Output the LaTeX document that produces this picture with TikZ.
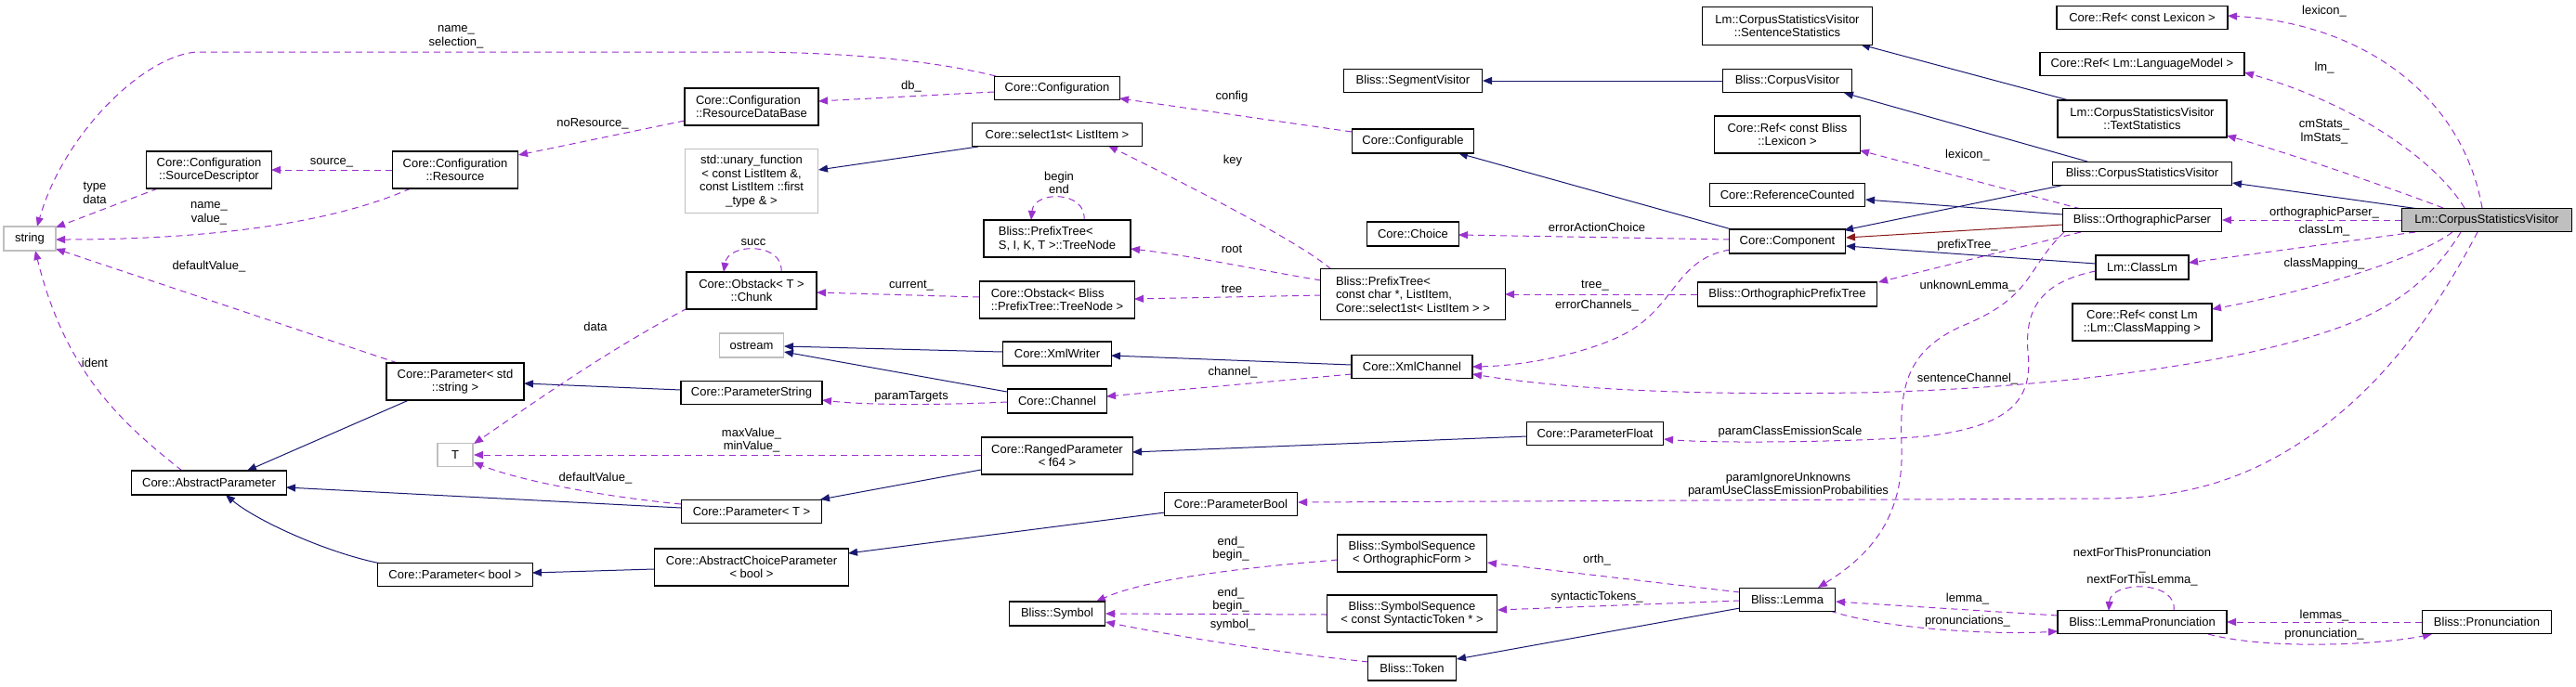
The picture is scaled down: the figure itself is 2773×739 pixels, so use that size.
\documentclass[tikz,border=0pt]{standalone}
\usepackage{fontspec}
\setmainfont{Liberation Sans}
\usetikzlibrary{arrows.meta,calc}
\definecolor{navy}{HTML}{191970}
\definecolor{orchid}{HTML}{9A32CD}
\definecolor{firebrick}{HTML}{8B1A1A}
\definecolor{grayb}{HTML}{BFBFBF}
\pgfdeclarelayer{bg}
\pgfsetlayers{bg,main}
\begin{document}
\begin{tikzpicture}[x=1pt,y=-1pt,font=\fontsize{13}{14.5}\selectfont,
  box/.style={draw=black,line width=1.1pt,fill=white,inner sep=0pt,align=center},
  gbox/.style={box,draw=grayb},
  inh/.style={draw=navy,line width=1pt,-{Triangle[length=10pt,width=8pt]}},
  priv/.style={inh,draw=firebrick},
  use/.style={draw=orchid,line width=1pt,dash pattern=on 7pt off 5pt,-{Triangle[length=10pt,width=8pt]}},
  lbl/.style={inner sep=0pt,align=center}]
\useasboundingbox (0,0) rectangle (2773,739);
% nodes
\node[gbox,minimum width=56pt,minimum height=26pt] (str) at (32,257) {string};
\node[box,minimum width=135pt,minimum height=40pt] (sd) at (225,183) {Core::Configuration\\::SourceDescriptor};
\node[box,minimum width=135pt,minimum height=40pt] (res) at (490,183) {Core::Configuration\\::Resource};
\node[box,minimum width=148pt,minimum height=40pt] (pstr) at (490,411) {Core::Parameter< std\\::string >};
\node[gbox,minimum width=38pt,minimum height=25pt] (tt) at (490,490) {T};
\node[box,minimum width=167pt,minimum height=26pt] (ap) at (225,520) {Core::AbstractParameter};
\node[box,minimum width=167pt,minimum height=25pt] (pbool) at (490,619) {Core::Parameter< bool >};
\node[box,minimum width=135pt,minimum height=25pt] (cfg) at (1138,95) {Core::Configuration};
\node[box,align=left,minimum width=144pt,minimum height=40pt] (rdb) at (809,115) {Core::Configuration\\::ResourceDataBase};
\node[box,minimum width=183pt,minimum height=25pt] (sel) at (1138,145) {Core::select1st< ListItem >};
\node[gbox,minimum width=143pt,minimum height=69pt] (uf) at (809,195) {std::unary\_function\\< const ListItem \&,\\ const ListItem ::first\\\_type \& >};
\node[box,align=left,minimum width=158pt,minimum height=40pt] (tn) at (1138,257) {Bliss::PrefixTree<\\ S, I, K, T >::TreeNode};
\node[box,minimum width=140pt,minimum height=40pt] (chunk) at (809,313) {Core::Obstack< T >\\::Chunk};
\node[box,align=left,minimum width=167pt,minimum height=40pt] (obs) at (1138,323) {Core::Obstack< Bliss\\::PrefixTree::TreeNode >};
\node[gbox,minimum width=69pt,minimum height=26pt] (ostr) at (809,372) {ostream};
\node[box,minimum width=117pt,minimum height=26pt] (xw) at (1138,381) {Core::XmlWriter};
\node[box,minimum width=152pt,minimum height=25pt] (pstring) at (809,423) {Core::ParameterString};
\node[box,minimum width=107pt,minimum height=26pt] (chan) at (1138,432) {Core::Channel};
\node[box,minimum width=163pt,minimum height=40pt] (rp) at (1138,491) {Core::RangedParameter\\< f64 >};
\node[box,minimum width=151pt,minimum height=25pt] (pt) at (809,551) {Core::Parameter< T >};
\node[box,minimum width=143pt,minimum height=25pt] (pb) at (1325,543) {Core::ParameterBool};
\node[box,minimum width=209pt,minimum height=40pt] (acp) at (809,611) {Core::AbstractChoiceParameter\\< bool >};
\node[box,minimum width=103pt,minimum height=26pt] (sym) at (1138,661) {Bliss::Symbol};
\node[box,minimum width=183pt,minimum height=41pt] (ss) at (1924,28) {Lm::CorpusStatisticsVisitor\\::SentenceStatistics};
\node[box,minimum width=149pt,minimum height=25pt] (sv) at (1521,87) {Bliss::SegmentVisitor};
\node[box,minimum width=139pt,minimum height=25pt] (cv) at (1924,87) {Bliss::CorpusVisitor};
\node[box,minimum width=157pt,minimum height=40pt] (rbl) at (1924,145) {Core::Ref< const Bliss\\::Lexicon >};
\node[box,minimum width=131pt,minimum height=26pt] (cfgb) at (1521,152) {Core::Configurable};
\node[box,minimum width=167pt,minimum height=25pt] (rc) at (1924,210) {Core::ReferenceCounted};
\node[box,minimum width=99pt,minimum height=26pt] (cho) at (1521,252) {Core::Choice};
\node[box,minimum width=125pt,minimum height=26pt] (comp) at (1924,260) {Core::Component};
\node[box,align=left,minimum width=199pt,minimum height=55pt] (ptree) at (1521,317) {Bliss::PrefixTree<\\ const char *, ListItem,\\ Core::select1st< ListItem > >};
\node[box,minimum width=193pt,minimum height=26pt] (opt) at (1924,317) {Bliss::OrthographicPrefixTree};
\node[box,minimum width=130pt,minimum height=25pt] (xch) at (1520,395) {Core::XmlChannel};
\node[box,minimum width=147pt,minimum height=25pt] (pf) at (1717,467) {Core::ParameterFloat};
\node[box,minimum width=161pt,minimum height=40pt] (sso) at (1520,596) {Bliss::SymbolSequence\\< OrthographicForm >};
\node[box,minimum width=183pt,minimum height=40pt] (sst) at (1520,661) {Bliss::SymbolSequence\\< const SyntacticToken * >};
\node[box,minimum width=95pt,minimum height=26pt] (tok) at (1520,720) {Bliss::Token};
\node[box,minimum width=103pt,minimum height=25pt] (lem) at (1924,646) {Bliss::Lemma};
\node[box,minimum width=184pt,minimum height=25pt] (rlex) at (2306,19) {Core::Ref< const Lexicon >};
\node[box,minimum width=220pt,minimum height=25pt] (rlm) at (2306,69) {Core::Ref< Lm::LanguageModel >};
\node[box,minimum width=182pt,minimum height=40pt] (ts) at (2306,128) {Lm::CorpusStatisticsVisitor\\::TextStatistics};
\node[box,minimum width=193pt,minimum height=25pt] (bcsv) at (2306,187) {Bliss::CorpusStatisticsVisitor};
\node[box,minimum width=171pt,minimum height=25pt] (op) at (2306,237) {Bliss::OrthographicParser};
\node[box,fill=grayb,minimum width=183pt,minimum height=25pt] (lcsv) at (2677,237) {Lm::CorpusStatisticsVisitor};
\node[box,minimum width=100pt,minimum height=26pt] (clm) at (2306,288) {Lm::ClassLm};
\node[box,minimum width=150pt,minimum height=40pt] (rcm) at (2306,347) {Core::Ref< const Lm\\::Lm::ClassMapping >};
\node[box,minimum width=182pt,minimum height=25pt] (lp) at (2306,670) {Bliss::LemmaPronunciation};
\node[box,minimum width=139pt,minimum height=25pt] (pron) at (2677,670) {Bliss::Pronunciation};
% labels
\node[lbl] (l1) at (491,40) {name\_\\selection\_};
\node[lbl] (l2) at (638,133) {noResource\_};
\node[lbl] (l3) at (357,175) {source\_};
\node[lbl] (l4) at (102,208) {type\\data};
\node[lbl] (l5) at (225,230) {name\_\\value\_};
\node[lbl] (l6) at (225,287) {defaultValue\_};
\node[lbl] (l7) at (641,352) {data};
\node[lbl] (l8) at (102,391) {ident};
\node[lbl] (l9) at (641,515) {defaultValue\_};
\node[lbl] (l10) at (981,93) {db\_};
\node[lbl] (l11) at (1326,104) {config};
\node[lbl] (l12) at (1327,173) {key};
\node[lbl] (l13) at (1140,197) {begin\\end};
\node[lbl] (l14) at (811,261) {succ};
\node[lbl] (l15) at (981,308) {current\_};
\node[lbl] (l16) at (1326,268) {root};
\node[lbl] (l17) at (1326,311) {tree};
\node[lbl] (l18) at (1327,401) {channel\_};
\node[lbl] (l19) at (981,427) {paramTargets};
\node[lbl] (l20) at (809,474) {maxValue\_\\minValue\_};
\node[lbl] (l21) at (1325,591) {end\_\\begin\_};
\node[lbl] (l22) at (1325,646) {end\_\\begin\_};
\node[lbl] (l23) at (1327,673) {symbol\_};
\node[lbl] (l24) at (1719,245) {errorActionChoice};
\node[lbl] (l25) at (1717,308) {tree\_};
\node[lbl] (l26) at (1719,329) {errorChannels\_};
\node[lbl] (l27) at (1927,465) {paramClassEmissionScale};
\node[lbl] (l28) at (1925,522) {paramIgnoreUnknowns\\paramUseClassEmissionProbabilities};
\node[lbl] (l29) at (1719,603) {orth\_};
\node[lbl] (l30) at (1719,643) {syntacticTokens\_};
\node[lbl] (l31) at (2502,12) {lexicon\_};
\node[lbl] (l32) at (2502,73) {lm\_};
\node[lbl] (l33) at (2502,142) {cmStats\_\\lmStats\_};
\node[lbl] (l34) at (2118,167) {lexicon\_};
\node[lbl] (l35) at (2502,229) {orthographicParser\_};
\node[lbl] (l36) at (2502,248) {classLm\_};
\node[lbl] (l37) at (2118,264) {prefixTree\_};
\node[lbl] (l38) at (2118,308) {unknownLemma\_};
\node[lbl] (l39) at (2502,284) {classMapping\_};
\node[lbl] (l40) at (2118,408) {sentenceChannel\_};
\node[lbl] (l41) at (2306,611) {nextForThisPronunciation\\\_\\nextForThisLemma\_};
\node[lbl] (l42) at (2118,645) {lemma\_};
\node[lbl] (l43) at (2118,669) {pronunciations\_};
\node[lbl] (l44) at (2502,663) {lemmas\_};
\node[lbl] (l45) at (2502,683) {pronunciation\_};
\begin{pgfonlayer}{bg}
% inheritance
\draw[inh] ($(pstr)+(-50,20)$) -- ($(ap)+(41,-13)$);
\draw[inh] ($(pstring)+(-76,-3)$) -- ($(pstr)+(74,2)$);
\draw[inh] ($(pt)+(-76,-4)$) -- ($(ap)+(83,5)$);
\draw[inh] ($(pbool)+(-80,-12)$) .. controls (350,595) and (275,560) .. ($(ap)+(18,13)$);
\draw[inh] ($(acp)+(-105,2)$) -- ($(pbool)+(83,-2)$);
\draw[inh] ($(sel)+(-85,13)$) -- ($(uf)+(72,-12)$);
\draw[inh] ($(xw)+(-59,-2)$) -- ($(ostr)+(35,1)$);
\draw[inh] ($(chan)+(-54,-10)$) -- ($(ostr)+(35,7)$);
\draw[inh] ($(xch)+(-65,-2)$) -- ($(xw)+(58,2)$);
\draw[inh] ($(rp)+(-82,15)$) -- ($(pt)+(74,-13)$);
\draw[inh] ($(pf)+(-73,3)$) -- ($(rp)+(81,-4)$);
\draw[inh] ($(pb)+(-71,9)$) -- ($(acp)+(104,-15)$);
\draw[inh] ($(cv)+(-70,0)$) -- ($(sv)+(75,0)$);
\draw[inh] ($(comp)+(-60,-13)$) -- ($(cfgb)+(49,13)$);
\draw[inh] ($(bcsv)+(-59,-13)$) -- ($(cv)+(61,13)$);
\draw[inh] ($(ts)+(-79,-20)$) -- ($(ss)+(79,20)$);
\draw[inh] ($(lcsv)+(-73,-12)$) -- ($(bcsv)+(97,10)$);
\draw[inh] ($(op)+(-86,-6)$) -- ($(rc)+(84,5)$);
\draw[inh] ($(bcsv)+(-83,12)$) -- ($(comp)+(61,-12)$);
\draw[priv] ($(op)+(-86,5)$) -- ($(comp)+(63,-4)$);
\draw[inh] ($(clm)+(-50,-4)$) -- ($(comp)+(63,5)$);
\draw[inh] ($(lem)+(-51,9)$) -- ($(tok)+(48,-10)$);
% usage
\draw[use] ($(cfg)+(-66,-13)$) .. controls (1000,64) and (900,56) .. (800,56) -- (215,56) .. controls (160,56) and (70,140) .. ($(str)+(8,-13)$);
\draw[use] ($(cfg)+(-68,4)$) -- ($(rdb)+(72,-6)$);
\draw[use] ($(rdb)+(-72,15)$) -- ($(res)+(68,-16)$);
\draw[use] ($(res)+(-68,0)$) -- ($(sd)+(67,0)$);
\draw[use] ($(sd)+(-55,20)$) -- ($(str)+(28,-12)$);
\draw[use] ($(res)+(-48,20)$) .. controls (370,235) and (250,258) .. ($(str)+(28,1)$);
\draw[use] ($(pstr)+(-62,-20)$) -- ($(str)+(28,11)$);
\draw[use] ($(ap)+(-29,-13)$) .. controls (130,455) and (70,400) .. ($(str)+(6,13)$);
\draw[use] ($(chunk)+(-69,19)$) .. controls (650,380) and (580,430) .. ($(tt)+(20,-12)$);
\draw[use] ($(chunk)+(32,-20)$) .. controls ($(chunk)+(35,-52)$) and ($(chunk)+(-25,-52)$) .. ($(chunk)+(-30,-20)$);
\draw[use] ($(rp)+(-82,-1)$) -- ($(tt)+(20,0)$);
\draw[use] ($(pt)+(-76,-8)$) .. controls (650,535) and (560,518) .. ($(tt)+(20,8)$);
\draw[use] ($(cfgb)+(-66,-10)$) -- ($(cfg)+(67,11)$);
\draw[use] ($(ptree)+(-88,-27)$) .. controls (1400,262) and (1300,210) .. ($(sel)+(55,12)$);
\draw[use] ($(ptree)+(-99,-15)$) .. controls (1350,290) and (1280,275) .. ($(tn)+(79,11)$);
\draw[use] ($(ptree)+(-99,1)$) -- ($(obs)+(83,-1)$);
\draw[use] ($(tn)+(29,-20)$) .. controls ($(tn)+(32,-52)$) and ($(tn)+(-25,-52)$) .. ($(tn)+(-28,-20)$);
\draw[use] ($(obs)+(-84,-3)$) -- ($(chunk)+(70,2)$);
\draw[use] ($(chan)+(-54,1)$) .. controls (1000,437) and (930,436) .. ($(pstring)+(76,8)$);
\draw[use] ($(xch)+(-65,8)$) -- ($(chan)+(53,-5)$);
\draw[use] ($(comp)+(-62,-2)$) -- ($(cho)+(49,1)$);
\draw[use] ($(opt)+(-97,0)$) -- ($(ptree)+(99,0)$);
\draw[use] ($(comp)+(-62,9)$) .. controls (1800,280) and (1805,335) .. (1740,364) .. controls (1700,382) and (1640,394) .. ($(xch)+(65,0)$);
\draw[use] ($(lcsv)+(-28,13)$) .. controls (2600,330) and (2530,355) .. (2420,380) .. controls (2300,405) and (2150,420) .. (2000,423) .. controls (1800,426) and (1680,418) .. ($(xch)+(65,8)$);
\draw[use] ($(lcsv)+(-10,13)$) .. controls (2630,320) and (2580,400) .. (2500,460) .. controls (2430,512) and (2360,537) .. (2263,537) -- ($(pb)+(72,-2)$);
\draw[use] ($(clm)+(-50,4)$) .. controls (2190,305) and (2180,340) .. (2183,380) .. controls (2190,440) and (2150,460) .. (2073,470) .. controls (2000,476) and (1850,478) .. ($(pf)+(74,6)$);
\draw[use] ($(op)+(-84,13)$) .. controls (2180,290) and (2190,320) .. (2110,352) .. controls (2050,380) and (2045,420) .. (2047,480) .. controls (2050,560) and (2010,600) .. ($(lem)+(33,-13)$);
\draw[use] ($(op)+(-66,-12)$) -- ($(rbl)+(78,17)$);
\draw[use] ($(op)+(-66,13)$) -- ($(opt)+(98,-13)$);
\draw[use] ($(lcsv)+(-92,0)$) -- ($(op)+(86,0)$);
\draw[use] ($(lcsv)+(-77,13)$) -- ($(clm)+(50,-5)$);
\draw[use] ($(lcsv)+(-37,13)$) .. controls (2600,280) and (2480,315) .. ($(rcm)+(75,-14)$);
\draw[use] ($(lcsv)+(-5,-13)$) .. controls (2650,100) and (2540,25) .. ($(rlex)+(92,-2)$);
\draw[use] ($(lcsv)+(-24,-13)$) .. controls (2620,170) and (2530,110) .. ($(rlm)+(110,9)$);
\draw[use] ($(lcsv)+(-47,-13)$) .. controls (2580,205) and (2480,170) .. ($(ts)+(91,18)$);
\draw[use] ($(lem)+(-51,-8)$) -- ($(sso)+(81,10)$);
\draw[use] ($(lem)+(-51,1)$) -- ($(sst)+(92,-4)$);
\draw[use] ($(sso)+(-80,7)$) .. controls (1330,612) and (1230,625) .. ($(sym)+(42,-13)$);
\draw[use] ($(sst)+(-91,1)$) -- ($(sym)+(52,0)$);
\draw[use] ($(tok)+(-47,-7)$) .. controls (1350,700) and (1250,682) .. ($(sym)+(52,9)$);
\draw[use] ($(lp)+(-91,-7)$) -- ($(lem)+(52,2)$);
\draw[use] ($(lem)+(46,12)$) .. controls (2030,678) and (2150,684) .. ($(lp)+(-91,10)$);
\draw[use] ($(lp)+(34,-12)$) .. controls ($(lp)+(39,-45)$) and ($(lp)+(-34,-45)$) .. ($(lp)+(-36,-12)$);
\draw[use] ($(pron)+(-70,0)$) -- ($(lp)+(91,0)$);
\draw[use] ($(lp)+(71,13)$) .. controls (2440,700) and (2560,695) .. ($(pron)+(-59,13)$);
\end{pgfonlayer}
\end{tikzpicture}
\end{document}
